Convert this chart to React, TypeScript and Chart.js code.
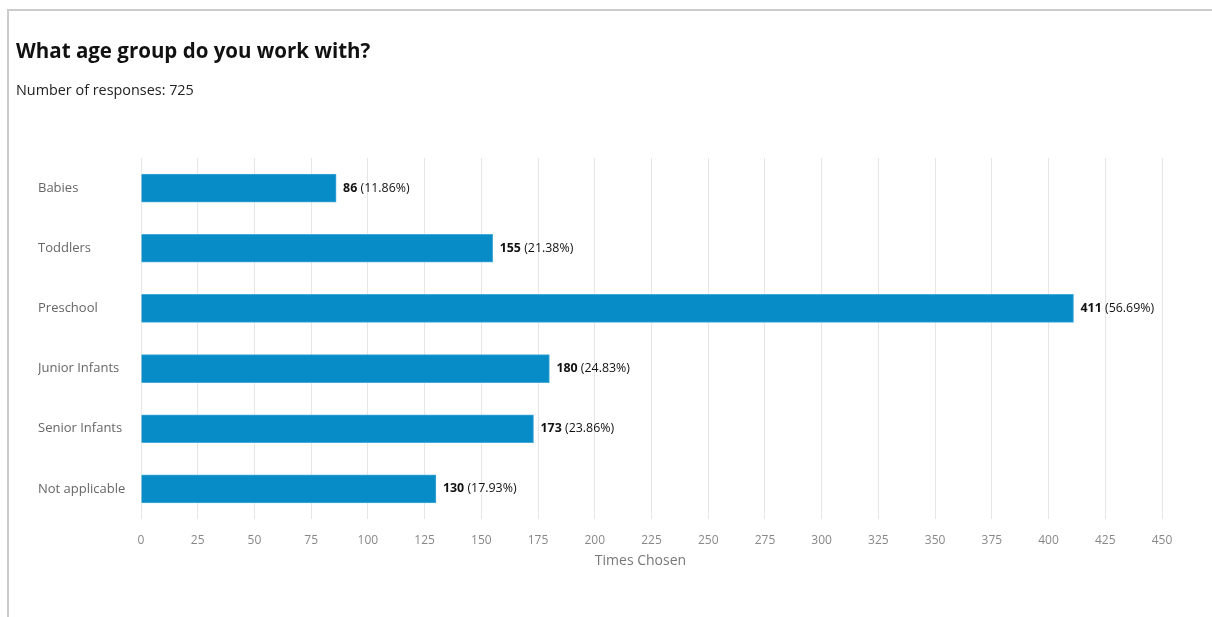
import React, { useEffect, useRef } from "react";
import { Chart, registerables } from "chart.js";

Chart.register(...registerables);

const titleText = "What age group do you work with?";
const subtitleText = "Number of responses: 725";
const categories = ["Babies", "Toddlers", "Preschool", "Junior Infants", "Senior Infants", "Not applicable"];
const counts = [86, 155, 411, 180, 173, 130];
const percentLabels = ["11.86%", "21.38%", "56.69%", "24.83%", "23.86%", "17.93%"];
const xAxisTitle = "Times Chosen";
const xMin = 0;
const xMax = 450;
const xStep = 25;

const FONT = "'Open Sans', 'Noto Sans', sans-serif";

const valueLabelPlugin = {
  id: "valueLabels",
  afterDatasetsDraw(chart: any) {
    const ctx = chart.ctx;
    const meta = chart.getDatasetMeta(0);
    ctx.save();
    ctx.textBaseline = "middle";
    ctx.textAlign = "left";
    ctx.fillStyle = "#111111";
    meta.data.forEach((el: any, i: number) => {
      const x = el.x + 7;
      const y = el.y;
      ctx.font = `bold 12.4px ${FONT}`;
      const v = String(counts[i]);
      ctx.fillText(v, x, y);
      const w = ctx.measureText(v).width;
      ctx.font = `12.4px ${FONT}`;
      ctx.fillText(` (${percentLabels[i]})`, x + w, y);
    });
    ctx.restore();
  },
};

const axisTitlePlugin = {
  id: "axisTitle",
  afterDraw(chart: any) {
    const ctx = chart.ctx;
    const a = chart.chartArea;
    ctx.save();
    ctx.font = `14px ${FONT}`;
    ctx.fillStyle = "#777777";
    ctx.textAlign = "center";
    ctx.textBaseline = "middle";
    ctx.fillText(xAxisTitle, (a.left + a.right) / 2 - 11, a.bottom + 42);
    ctx.restore();
  },
};

export default function App() {
  const ref = useRef<HTMLCanvasElement | null>(null);
  useEffect(() => {
    if (!ref.current) return;
    const chart = new Chart(ref.current, {
      type: "bar",
      data: {
        labels: categories,
        datasets: [
          {
            data: counts,
            backgroundColor: "#078cc8",
            borderColor: "#45a9da",
            borderWidth: 1,
            barThickness: 28,
          },
        ],
      },
      options: {
        indexAxis: "y",
        responsive: false,
        animation: false,
        layout: { padding: { left: 29, right: 50, top: 147, bottom: 44 } },
        plugins: {
          legend: { display: false },
          tooltip: { enabled: false },
        },
        scales: {
          x: {
            type: "linear",
            min: xMin,
            max: xMax,
            ticks: {
              stepSize: xStep,
              color: "#888888",
              font: { family: FONT, size: 12 },
              padding: 14,
              maxRotation: 0,
            },
            grid: { color: "#e6e6e6", drawTicks: false },
            border: { display: false },
            afterFit: (s: any) => {
              s.height = 54;
            },
          },
          y: {
            ticks: {
              color: "#666666",
              font: { family: FONT, size: 13 },
              crossAlign: "far",
              padding: 17,
            },
            grid: { display: false, drawTicks: false },
            border: { display: false },
            afterFit: (s: any) => {
              s.width = 103;
            },
          },
        },
      },
      plugins: [valueLabelPlugin, axisTitlePlugin],
    } as any);
    return () => chart.destroy();
  }, []);

  return (
    <div
      style={{
        position: "absolute",
        left: 7,
        top: 9,
        width: 1205,
        height: 608,
        borderTop: "2px solid #cccccc",
        borderLeft: "2px solid #cccccc",
        boxSizing: "border-box",
        background: "#ffffff",
        fontFamily: FONT,
      }}
    >
      <canvas ref={ref} width={1203} height={606} style={{ display: "block" }} />
      <div
        style={{
          position: "absolute",
          left: 7,
          top: 27,
          fontSize: "20.5px",
          lineHeight: "24px",
          fontWeight: 700,
          color: "#111111",
          whiteSpace: "nowrap",
        }}
      >
        {titleText}
      </div>
      <div
        style={{
          position: "absolute",
          left: 7,
          top: 70,
          fontSize: "14.4px",
          lineHeight: "17px",
          color: "#222222",
          whiteSpace: "nowrap",
        }}
      >
        {subtitleText}
      </div>
    </div>
  );
}
